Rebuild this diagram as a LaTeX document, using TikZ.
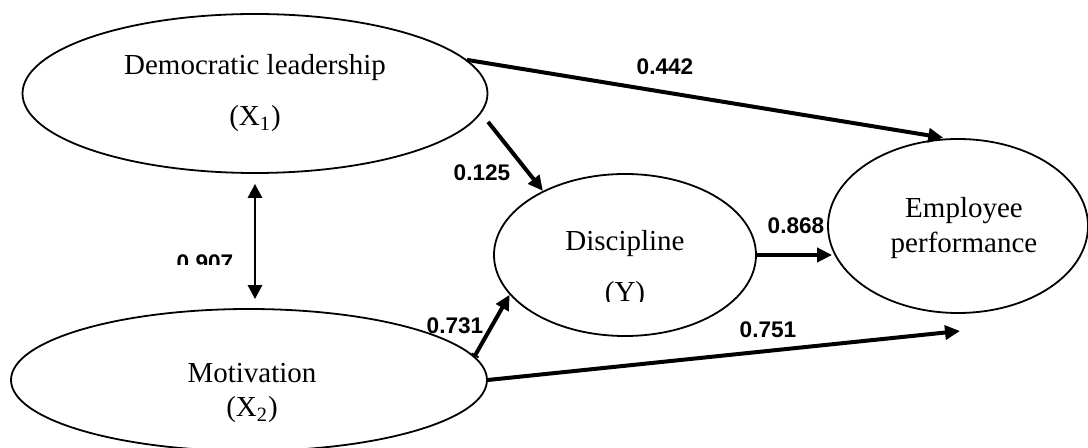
\documentclass[tikz,border=0pt]{standalone}
\usepackage{fontspec}
\setmainfont{Liberation Serif}
\setsansfont{Liberation Sans}
\usetikzlibrary{arrows.meta,shapes.geometric}

\begin{document}
\begin{tikzpicture}[x=0.5pt, y=-0.5pt,
        latent/.style={ellipse, draw, line width=0.9pt, inner sep=0pt},
        vname/.style={align=center, inner sep=0pt, font=\fontsize{14.5}{17.4}\selectfont},
        coef/.style={inner sep=0pt, font=\sffamily\bfseries\fontsize{11.3}{13}\selectfont},
        effect/.style={line width=2pt, -{Triangle[length=7.5pt, width=7pt]}},
        corr/.style={line width=1.4pt, {Triangle[length=7pt, width=7pt]}-{Triangle[length=7pt, width=7pt]}}]
        \useasboundingbox (0,0) rectangle (1088,448);
        % latent variables
        \node [latent, minimum width=232.5pt, minimum height=79.5pt] (dl) at (255,93.5) {};
        \node [latent, minimum width=238pt, minimum height=71pt] (mot) at (249,380) {};
        \node [latent, minimum width=131pt, minimum height=81pt] (dis) at (625,255) {};
        \node [latent, minimum width=130pt, minimum height=87pt] (perf) at (958,226) {};
        \node [vname] (dltext) at (255,93) {Democratic leadership\\[8.5pt](X\textsubscript{1})};
        \node [vname] (mottext) at (252,393) {Motivation\\(X\textsubscript{2})};
        \begin{scope}
            \clip (0,0) rectangle (1088,302); % (Y) cut at the bottom
            \node [vname] (distext) at (625,269) {Discipline\\[8.5pt](Y)};
        \end{scope}
        \node [vname] (perftext) at (964,228) {Employee\\performance};
        % paths
        \draw [effect, shorten >=2pt] (dl.9) -- (perf.97);
        \draw [effect, shorten <=5.5pt] (dl.-5.8) -- (dis.142);
        \draw [corr, shorten <=5pt, shorten >=4.5pt] (dl.south) -- (dl.south |- mot.north);
        \draw [effect, {Bar[width=4pt, line width=1pt]}-{Triangle[length=7.5pt, width=7pt]}] (mot.6.5) -- (dis.199);
        \draw [effect, shorten >=-2.5pt] (dis.east) -- (dis.east -| perf.west);
        \coordinate (perfgap) at (960,331);
        \draw [effect] (mot.east) -- (perfgap); % stops short of the ellipse
        % coefficients
        \node [coef] (c442) at (665,67) {0.442};
        \node [coef] (c125) at (482,173) {0.125};
        \begin{scope}
            \clip (0,0) rectangle (1088,265); % 0.907 cut at the bottom
            \node [coef] (c907) at (205,263) {0.907};
        \end{scope}
        \node [coef] (c731) at (455,326) {0.731};
        \node [coef] (c868) at (796,226) {0.868};
        \node [coef] (c751) at (768,330) {0.751};
\end{tikzpicture}
\end{document}
